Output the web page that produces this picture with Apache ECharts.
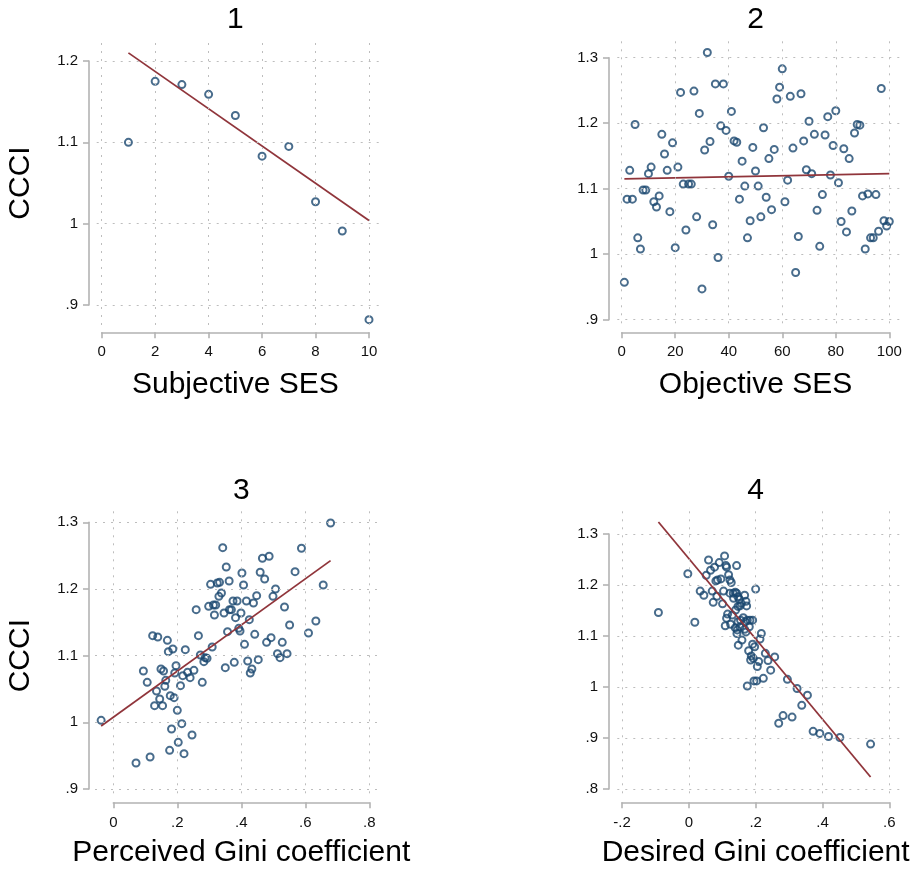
<!DOCTYPE html>
<html>
<head>
<meta charset="utf-8">
<script src="https://cdn.jsdelivr.net/npm/echarts@6/dist/echarts.min.js"></script>
<style>
  html, body { margin: 0; background: #fff; }
  #chart { width: 920px; height: 870px; }
</style>
</head>
<body>
<div id="chart"></div>
<script>
// ---- data ----
const panelTitles = ['1', '2', '3', '4'];
const xNames = ['Subjective SES', 'Objective SES', 'Perceived Gini coefficient', 'Desired Gini coefficient'];
const yName = 'CCCI';

// tick values for each panel
const subjXTicks = [0, 2, 4, 6, 8, 10];
const subjYTicks = [0.9, 1, 1.1, 1.2];
const objXTicks = [0, 20, 40, 60, 80, 100];
const objYTicks = [0.9, 1, 1.1, 1.2, 1.3];
const percXTicks = [0, 0.2, 0.4, 0.6, 0.8];
const percYTicks = [0.9, 1, 1.1, 1.2, 1.3];
const desXTicks = [-0.2, 0, 0.2, 0.4, 0.6];
const desYTicks = [0.8, 0.9, 1, 1.1, 1.2, 1.3];

// panel 1: subjective SES
const subjX = [1, 2, 3, 4, 5, 6, 7, 8, 9, 10];
const subjY = [1.100, 1.175, 1.171, 1.159, 1.133, 1.083, 1.095, 1.027, 0.991, 0.882];
const subjFit = [[1, 1.210], [10, 1.004]];

// panel 2: objective SES
const objPoints = [
  [1, 0.957], [2, 1.084], [3, 1.128], [4, 1.084], [5, 1.198], [6, 1.025], [7, 1.008], [8, 1.098],
  [9, 1.098], [10, 1.123], [11, 1.133], [12, 1.080], [13, 1.072], [14, 1.089], [15, 1.183], [16, 1.153],
  [17, 1.128], [18, 1.065], [19, 1.170], [20, 1.010], [21, 1.133], [22, 1.247], [23, 1.107], [24, 1.037],
  [25, 1.107], [26, 1.107], [27, 1.249], [28, 1.057], [29, 1.215], [30, 0.947], [31, 1.159], [32, 1.308],
  [33, 1.172], [34, 1.045], [35, 1.260], [36, 0.995], [37, 1.196], [38, 1.260], [39, 1.189], [40, 1.119],
  [41, 1.218], [42, 1.173], [43, 1.171], [44, 1.084], [45, 1.142], [46, 1.104], [47, 1.025], [48, 1.051],
  [49, 1.163], [50, 1.127], [51, 1.104], [52, 1.057], [53, 1.193], [54, 1.087], [55, 1.146], [56, 1.068],
  [57, 1.160], [58, 1.237], [59, 1.255], [60, 1.283], [61, 1.080], [62, 1.113], [63, 1.241], [64, 1.162],
  [65, 0.972], [66, 1.027], [67, 1.245], [68, 1.173], [69, 1.129], [70, 1.203], [71, 1.123], [72, 1.183],
  [73, 1.067], [74, 1.012], [75, 1.091], [76, 1.182], [77, 1.210], [78, 1.121], [79, 1.166], [80, 1.219],
  [81, 1.109], [82, 1.050], [83, 1.161], [84, 1.034], [85, 1.146], [86, 1.066], [87, 1.185], [88, 1.198],
  [89, 1.197], [90, 1.089], [91, 1.008], [92, 1.092], [93, 1.025], [94, 1.025], [95, 1.091], [96, 1.035],
  [97, 1.253], [98, 1.051], [99, 1.043], [100, 1.050]
];
const objFit = [[1, 1.115], [100, 1.123]];

// panel 3: perceived Gini
const percPoints = [
  [-0.038, 1.003], [0.071, 0.939], [0.115, 0.948], [0.094, 1.077], [0.106, 1.060], [0.123, 1.130],
  [0.139, 1.128], [0.135, 1.047], [0.145, 1.035], [0.129, 1.025], [0.154, 1.025], [0.149, 1.080],
  [0.157, 1.077], [0.164, 1.063], [0.161, 1.054], [0.169, 1.123], [0.172, 1.106], [0.186, 1.110],
  [0.178, 1.040], [0.190, 1.037], [0.182, 0.990], [0.176, 0.958], [0.196, 1.085], [0.192, 1.074],
  [0.200, 1.018], [0.203, 0.970], [0.210, 1.055], [0.214, 0.998], [0.217, 1.070], [0.221, 0.953],
  [0.225, 1.109], [0.232, 1.075], [0.240, 1.067], [0.246, 0.981], [0.252, 1.078], [0.259, 1.169],
  [0.266, 1.130], [0.278, 1.060], [0.272, 1.101], [0.283, 1.091], [0.287, 1.097], [0.293, 1.096],
  [0.298, 1.174], [0.304, 1.207], [0.309, 1.113], [0.313, 1.176], [0.320, 1.176], [0.316, 1.161],
  [0.325, 1.209], [0.332, 1.210], [0.330, 1.189], [0.338, 1.194], [0.342, 1.262], [0.353, 1.233],
  [0.362, 1.212], [0.346, 1.164], [0.363, 1.169], [0.369, 1.169], [0.374, 1.182], [0.387, 1.182],
  [0.382, 1.157], [0.399, 1.164], [0.357, 1.136], [0.392, 1.141], [0.396, 1.137], [0.350, 1.082],
  [0.378, 1.090], [0.402, 1.224], [0.407, 1.206], [0.416, 1.182], [0.425, 1.154], [0.410, 1.117],
  [0.420, 1.092], [0.428, 1.074], [0.433, 1.080], [0.442, 1.132], [0.438, 1.179], [0.448, 1.190],
  [0.453, 1.094], [0.459, 1.225], [0.466, 1.246], [0.473, 1.215], [0.487, 1.249], [0.479, 1.120],
  [0.493, 1.127], [0.499, 1.189], [0.507, 1.200], [0.513, 1.103], [0.521, 1.097], [0.528, 1.120],
  [0.535, 1.173], [0.543, 1.103], [0.551, 1.146], [0.568, 1.226], [0.588, 1.261], [0.610, 1.134],
  [0.633, 1.152], [0.656, 1.206], [0.679, 1.299]
];
const percFit = [[-0.038, 0.9945], [0.679, 1.2425]];

// panel 4: desired Gini
const desPoints = [
  [-0.091, 1.146], [-0.003, 1.222], [0.018, 1.127], [0.034, 1.188], [0.045, 1.180], [0.052, 1.219],
  [0.059, 1.249], [0.065, 1.229], [0.077, 1.235], [0.091, 1.244], [0.107, 1.257], [0.070, 1.188],
  [0.073, 1.166], [0.081, 1.208], [0.086, 1.210], [0.084, 1.178], [0.096, 1.212], [0.101, 1.163],
  [0.104, 1.188], [0.109, 1.120], [0.113, 1.135], [0.116, 1.143], [0.111, 1.238], [0.113, 1.235],
  [0.119, 1.220], [0.123, 1.210], [0.127, 1.205], [0.125, 1.123], [0.130, 1.141], [0.133, 1.184],
  [0.139, 1.186], [0.143, 1.238], [0.134, 1.174], [0.140, 1.151], [0.147, 1.177], [0.148, 1.082],
  [0.144, 1.105], [0.147, 1.158], [0.200, 1.192], [0.123, 1.184], [0.143, 1.184], [0.167, 1.180],
  [0.151, 1.172], [0.171, 1.168], [0.157, 1.164], [0.153, 1.159], [0.173, 1.159], [0.163, 1.136],
  [0.147, 1.128], [0.155, 1.131], [0.169, 1.128], [0.175, 1.131], [0.183, 1.131], [0.191, 1.131],
  [0.139, 1.116], [0.145, 1.112], [0.167, 1.113], [0.153, 1.118], [0.181, 1.118], [0.171, 1.108],
  [0.159, 1.092], [0.217, 1.105], [0.213, 1.094], [0.191, 1.084], [0.197, 1.079], [0.179, 1.071],
  [0.229, 1.066], [0.187, 1.061], [0.193, 1.056], [0.185, 1.053], [0.209, 1.050], [0.237, 1.052],
  [0.257, 1.059], [0.205, 1.040], [0.245, 1.033], [0.195, 1.012], [0.203, 1.012], [0.223, 1.017],
  [0.175, 1.002], [0.295, 1.015], [0.324, 0.997], [0.355, 0.984], [0.338, 0.964], [0.269, 0.929],
  [0.282, 0.944], [0.309, 0.941], [0.372, 0.913], [0.392, 0.909], [0.418, 0.903], [0.452, 0.901],
  [0.544, 0.888]
];
const desFit = [[-0.091, 1.3235], [0.544, 0.8235]];

// ---- layout (pixels) ----
// tick: pixel box spanned by first/last ticks, plot: plot region, axX/axY: where the axis lines sit
const panels = [
  { xTicks: subjXTicks, yTicks: subjYTicks, points: subjX.map((x, i) => [x, subjY[i]]), fit: subjFit,
    tick: { x0: 101.7, x1: 369, t: 61, b: 305 }, plot: { l: 96.7, r: 381, t: 41, b: 325 }, axY: 89, axX: 332.3, top: true },
  { xTicks: objXTicks, yTicks: objYTicks, points: objPoints, fit: objFit,
    tick: { x0: 621.7, x1: 889.3, t: 57.7, b: 319.7 }, plot: { l: 617.3, r: 901.7, t: 41, b: 323.3 }, axY: 609, axX: 332.3, top: true },
  { xTicks: percXTicks, yTicks: percYTicks, points: percPoints, fit: percFit,
    tick: { x0: 113.3, x1: 369.3, t: 522.3, b: 789 }, plot: { l: 95, r: 380, t: 510, b: 793.3 }, axY: 89, axX: 802.3, top: false },
  { xTicks: desXTicks, yTicks: desYTicks, points: desPoints, fit: desFit,
    tick: { x0: 622, x1: 889.3, t: 534, b: 789 }, plot: { l: 617.3, r: 901.7, t: 510, b: 793.3 }, axY: 609, axX: 802.3, top: false }
];

const NAVY = '#1a476f';
const MAROON = '#90353b';
const AXIS_GREY = '#b3b3b3';
const GRID_GREY = '#bdbdbd';
const FONT = 'Liberation Sans, Arial, sans-serif';

// Stata style labels: .9, 1, 1.1, -.2
function stataLabel(v) {
  const s = String(+v.toFixed(3));
  return s.replace(/^(-?)0\./, '$1.');
}

const option = {
  animation: false,
  backgroundColor: '#fff',
  title: [],
  grid: [],
  xAxis: [],
  yAxis: [],
  series: []
};

panels.forEach((p, i) => {
  const xt = p.xTicks, yt = p.yTicks;
  const tb = p.tick, pb = p.plot;
  const xLo = xt[0], xHi = xt[xt.length - 1];
  const yLo = yt[0], yHi = yt[yt.length - 1];
  const xPerPx = (xHi - xLo) / (tb.x1 - tb.x0);
  const yPerPx = (yHi - yLo) / (tb.b - tb.t);
  const gData = i * 2, gAxis = i * 2 + 1;

  // grid holding the marks (full plot region)
  option.grid.push({ left: pb.l, top: pb.t, width: pb.r - pb.l, height: pb.b - pb.t, outerBoundsMode: 'none' });
  // grid holding the visible axes (tick range only)
  option.grid.push({ left: tb.x0, top: tb.t, width: tb.x1 - tb.x0, height: tb.b - tb.t, outerBoundsMode: 'none' });

  option.xAxis.push({
    gridIndex: gData, type: 'value', show: false,
    min: xLo - (tb.x0 - pb.l) * xPerPx, max: xHi + (pb.r - tb.x1) * xPerPx
  });
  option.yAxis.push({
    gridIndex: gData, type: 'value', show: false,
    min: yLo - (pb.b - tb.b) * yPerPx, max: yHi + (tb.t - pb.t) * yPerPx
  });

  option.xAxis.push({
    gridIndex: gAxis, type: 'value', position: 'bottom', min: xLo, max: xHi, interval: +(xt[1] - xt[0]).toFixed(6),
    offset: p.axX - tb.b,
    axisLine: { show: true, onZero: false, lineStyle: { color: AXIS_GREY, width: 1.6 } },
    axisTick: { show: true, length: 6, lineStyle: { color: AXIS_GREY, width: 1.6 } },
    axisLabel: { formatter: stataLabel, color: '#111', fontSize: 15, fontFamily: FONT, margin: p.top ? 12 : 13, showMinLabel: true, showMaxLabel: true },
    splitLine: { show: false },
    name: xNames[i], nameLocation: 'middle', nameGap: p.top ? 37 : 35,
    nameTextStyle: { fontSize: 30, color: '#000', fontFamily: FONT }
  });
  option.yAxis.push({
    gridIndex: gAxis, type: 'value', position: 'left', min: yLo, max: yHi, interval: +(yt[1] - yt[0]).toFixed(6),
    offset: tb.x0 - p.axY,
    axisLine: { show: true, onZero: false, lineStyle: { color: AXIS_GREY, width: 1.6 } },
    axisTick: { show: true, length: 6, lineStyle: { color: AXIS_GREY, width: 1.6 } },
    axisLabel: { formatter: stataLabel, color: '#111', fontSize: 15, fontFamily: FONT, margin: 11, showMinLabel: true, showMaxLabel: true },
    splitLine: { show: false },
    name: i % 2 === 0 ? yName : '', nameLocation: 'middle', nameGap: 53,
    nameTextStyle: { fontSize: 30, color: '#000', fontFamily: FONT }
  });

  option.title.push({
    text: panelTitles[i], left: (tb.x0 + tb.x1) / 2, top: p.top ? 5 : 476, textAlign: 'center', padding: 0,
    textStyle: { fontSize: 30, fontWeight: 'normal', color: '#000', fontFamily: FONT }
  });

  // dotted grid lines at the tick values, spanning the plot region
  option.series.push({
    type: 'line', xAxisIndex: gData, yAxisIndex: gData, data: [], silent: true, z: 1,
    markLine: {
      silent: true, symbol: ['none', 'none'], label: { show: false }, emphasis: { disabled: true },
      lineStyle: { color: GRID_GREY, width: 1, type: [2, 6] },
      data: xt.map(v => ({ xAxis: v })).concat(yt.map(v => ({ yAxis: v })))
    }
  });
  option.series.push({
    type: 'scatter', xAxisIndex: gData, yAxisIndex: gData, data: p.points, silent: true, z: 3,
    symbol: 'circle', symbolSize: 7,
    itemStyle: { color: 'rgba(0,0,0,0)', borderColor: NAVY, borderWidth: 2 }
  });
  option.series.push({
    type: 'line', xAxisIndex: gData, yAxisIndex: gData, data: p.fit, silent: true, z: 4,
    symbol: 'none', lineStyle: { color: MAROON, width: 1.8 }
  });
});

const chart = echarts.init(document.getElementById('chart'));
chart.setOption(option);
window.addEventListener('resize', () => chart.resize());
</script>
</body>
</html>
